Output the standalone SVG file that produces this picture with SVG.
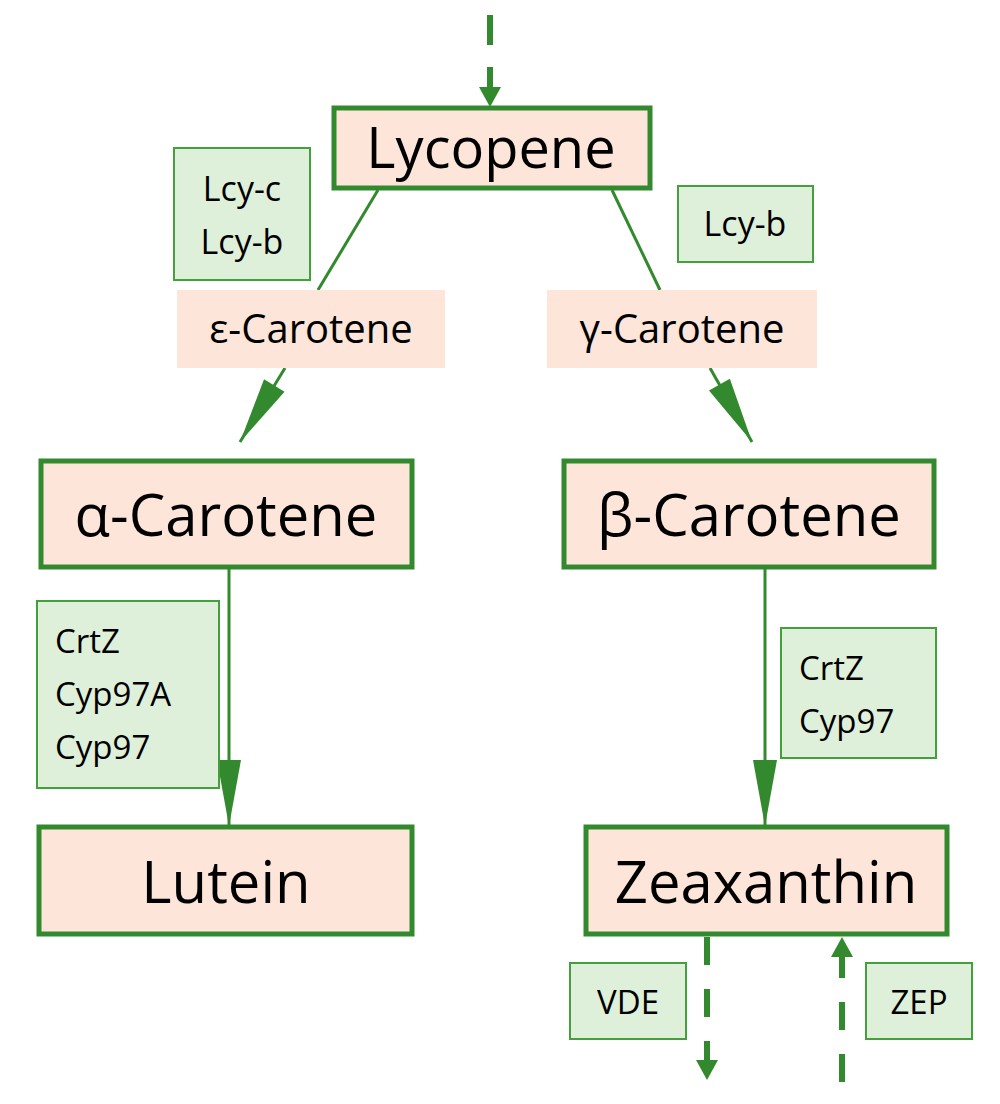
<svg xmlns="http://www.w3.org/2000/svg" width="1000" height="1104" viewBox="0 0 1000 1104">
<style>
.n{fill:#fde6d9;stroke:#338a2e;stroke-width:5}
.i{fill:#fde6d9}
.e{fill:#dff0da;stroke:#43a03c;stroke-width:2}
.t{font-family:"Open Sans","Noto Sans",sans-serif;fill:#000;text-anchor:middle}
.s{font-family:"Open Sans","Noto Sans",sans-serif;fill:#000;text-anchor:start}
.c{stroke:#338a2e;stroke-width:3;fill:none}
.d{stroke:#338a2e;stroke-width:6;fill:none}
</style>
<defs>
<marker id="a" markerWidth="10" markerHeight="10" refX="0" refY="0" markerUnits="userSpaceOnUse" orient="auto" overflow="visible"><path d="M-66,-12 L0,0 L-66,12 Z" fill="#338a2e"/></marker>
<marker id="b" markerWidth="10" markerHeight="10" refX="0" refY="0" markerUnits="userSpaceOnUse" orient="auto" overflow="visible"><path d="M-20,-11 L0,0 L-20,11 Z" fill="#338a2e"/></marker>
</defs>
<g id="connectors">
<line class="d" x1="490" y1="15" x2="490" y2="107" stroke-dasharray="30,22" marker-end="url(#b)"/>
<line class="c" x1="378" y1="190" x2="318" y2="290"/>
<line class="c" x1="285" y1="368" x2="240" y2="442" marker-end="url(#a)"/>
<line class="c" x1="612" y1="190" x2="660" y2="290"/>
<line class="c" x1="710" y1="368" x2="752" y2="442" marker-end="url(#a)"/>
<line class="c" x1="229" y1="568" x2="229" y2="826" marker-end="url(#a)"/>
<line class="c" x1="765" y1="568" x2="765" y2="826" marker-end="url(#a)"/>
<line class="d" x1="707" y1="937" x2="707" y2="1080" stroke-dasharray="28,24" marker-end="url(#b)"/>
<line class="d" x1="842" y1="1082" x2="842" y2="937" stroke-dasharray="28,24" marker-end="url(#b)"/>
</g>
<g id="lycopene"><rect class="n" x="334" y="108" width="316" height="80"/><text class="t" x="491" y="168" font-size="56">Lycopene</text></g>
<g id="enz1"><rect class="e" x="174" y="148" width="136" height="132"/><text class="t" x="242" y="201" font-size="34">Lcy-c</text><text class="t" x="242" y="254" font-size="34">Lcy-b</text></g>
<g id="enz2"><rect class="e" x="678" y="186" width="135" height="76"/><text class="t" x="745" y="236" font-size="34">Lcy-b</text></g>
<g id="eps"><rect class="i" x="177" y="290" width="268" height="78"/><text class="t" x="311" y="343" font-size="40">ε-Carotene</text></g>
<g id="gam"><rect class="i" x="547" y="290" width="270" height="78"/><text class="t" x="682" y="343" font-size="40">γ-Carotene</text></g>
<g id="alpha"><rect class="n" x="41" y="461" width="371" height="106"/><text class="t" x="226" y="536" font-size="58">α-Carotene</text></g>
<g id="beta"><rect class="n" x="564" y="461" width="370" height="106"/><text class="t" x="749" y="536" font-size="58">β-Carotene</text></g>
<g id="enz3"><rect class="e" x="37" y="601" width="182" height="187"/><text class="s" x="55" y="653" font-size="33">CrtZ</text><text class="s" x="55" y="706" font-size="33">Cyp97A</text><text class="s" x="55" y="759" font-size="33">Cyp97</text></g>
<g id="enz4"><rect class="e" x="781" y="628" width="155" height="130"/><text class="s" x="799" y="680" font-size="33">CrtZ</text><text class="s" x="799" y="733" font-size="33">Cyp97</text></g>
<g id="lutein"><rect class="n" x="39" y="827" width="373" height="107"/><text class="t" x="226" y="903" font-size="58">Lutein</text></g>
<g id="zea"><rect class="n" x="586" y="827" width="361" height="107"/><text class="t" x="766" y="903" font-size="58">Zeaxanthin</text></g>
<g id="vde"><rect class="e" x="570" y="963" width="116" height="76"/><text class="t" x="628" y="1014" font-size="33">VDE</text></g>
<g id="zep"><rect class="e" x="866" y="963" width="106" height="76"/><text class="t" x="919" y="1014" font-size="33">ZEP</text></g>
</svg>
